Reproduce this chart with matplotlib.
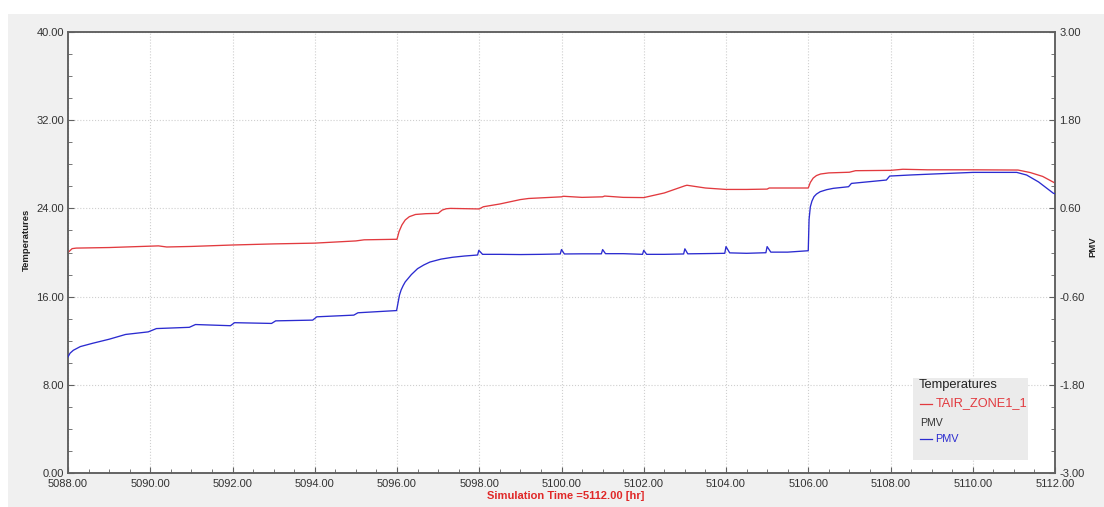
import matplotlib.pyplot as plt
from matplotlib.patches import Rectangle
from matplotlib.ticker import MultipleLocator, FixedLocator, FormatStrFormatter
from matplotlib.lines import Line2D

plt.rcParams['font.family'] = ['Liberation Sans', 'DejaVu Sans']

# TAIR_ZONE1_1 (left axis, temperatures)
tair_time = [5088.0, 5088.1, 5088.2, 5089.0, 5090.2, 5090.4, 5091.0, 5092.0, 5093.0, 5094.0,
             5095.0, 5095.2, 5096.0, 5096.05, 5096.12, 5096.2, 5096.3, 5096.45, 5096.7, 5097.0,
             5097.1, 5097.2, 5097.3, 5098.0, 5098.1, 5098.5, 5099.0, 5099.2, 5100.0, 5100.05,
             5100.5, 5101.0, 5101.05, 5101.5, 5102.0, 5102.5, 5103.0, 5103.05, 5103.5, 5104.0,
             5104.5, 5105.0, 5105.05, 5106.0, 5106.05, 5106.12, 5106.2, 5106.3, 5106.5, 5107.0,
             5107.15, 5108.0, 5108.3, 5108.9, 5110.0, 5111.1, 5111.4, 5111.7, 5112.0]
tair = [20.0, 20.35, 20.4, 20.45, 20.6, 20.5, 20.55, 20.68, 20.78, 20.85,
        21.05, 21.15, 21.2, 21.9, 22.5, 22.95, 23.25, 23.45, 23.52, 23.55,
        23.85, 23.97, 24.0, 23.95, 24.15, 24.4, 24.8, 24.9, 25.05, 25.1,
        25.0, 25.05, 25.12, 25.0, 24.98, 25.4, 26.05, 26.1, 25.85, 25.72,
        25.72, 25.75, 25.85, 25.85, 26.35, 26.75, 26.98, 27.12, 27.22, 27.28,
        27.42, 27.45, 27.55, 27.5, 27.5, 27.48, 27.25, 26.9, 26.3]

# PMV (right axis)
pmv_time = [5088.0, 5088.05, 5088.13, 5088.3, 5088.6, 5089.0, 5089.4, 5089.95, 5090.15, 5090.95,
            5091.1, 5091.95, 5092.05, 5092.95, 5093.05, 5093.95, 5094.05, 5094.95, 5095.05, 5095.99,
            5096.02, 5096.06, 5096.1, 5096.15, 5096.2, 5096.26, 5096.35, 5096.5, 5096.65, 5096.8,
            5097.07, 5097.35, 5097.64, 5097.96, 5097.99, 5098.08, 5098.5, 5099.0, 5099.5, 5099.97,
            5100.0, 5100.07, 5100.5, 5100.97, 5101.0, 5101.07, 5101.5, 5101.97, 5102.0, 5102.07,
            5102.5, 5102.97, 5103.0, 5103.07, 5103.5, 5103.97, 5104.0, 5104.09, 5104.5, 5104.97,
            5105.0, 5105.09, 5105.5, 5106.0, 5106.02, 5106.05, 5106.09, 5106.14, 5106.2, 5106.29,
            5106.45, 5106.61, 5106.98, 5107.05, 5107.9, 5107.98, 5108.5, 5109.04, 5110.01, 5111.07,
            5111.31, 5111.6, 5111.96, 5112.0]
pmv = [-1.42, -1.37, -1.33, -1.28, -1.235, -1.18, -1.115, -1.08, -1.035, -1.018,
       -0.98, -0.996, -0.955, -0.965, -0.93, -0.92, -0.875, -0.852, -0.82, -0.79,
       -0.7, -0.58, -0.51, -0.45, -0.4, -0.36, -0.3, -0.22, -0.17, -0.13,
       -0.09, -0.065, -0.048, -0.034, 0.03, -0.025, -0.025, -0.028, -0.025, -0.02,
       0.04, -0.02, -0.018, -0.018, 0.04, -0.016, -0.016, -0.025, 0.03, -0.025,
       -0.025, -0.02, 0.05, -0.018, -0.015, -0.011, 0.08, -0.005, -0.011, -0.003,
       0.08, 0.005, 0.005, 0.024, 0.45, 0.62, 0.7, 0.76, 0.795, 0.827,
       0.855, 0.873, 0.895, 0.94, 0.986, 1.04, 1.055, 1.068, 1.09, 1.09,
       1.054, 0.96, 0.806, 0.8]

pmv_ticks = [-3.0, -1.8, -0.6, 0.6, 1.8, 3.0]

red = '#e23a3f'
blue = '#2b2bd0'
tick_col = '#333333'
spine_col = '#606060'

fig = plt.figure(figsize=(11.04, 5.07), dpi=100, facecolor='white')
# grey panel behind the chart
fig.patches.append(Rectangle((8 / 1104, 0), 1 - 8 / 1104, 1 - 14 / 507,
                             transform=fig.transFigure, facecolor='#f0f0f0',
                             edgecolor='none', zorder=-10))

ax = fig.add_axes([68 / 1104, 34 / 507, 987 / 1104, 441 / 507])
ax.set_facecolor('white')
ax.plot(tair_time, tair, color=red, lw=0.95, zorder=3)
ax.set_xlim(5088, 5112)
ax.set_ylim(0, 40)
ax.xaxis.set_major_locator(MultipleLocator(2))
ax.xaxis.set_minor_locator(MultipleLocator(0.5))
ax.yaxis.set_major_locator(MultipleLocator(8))
ax.yaxis.set_minor_locator(MultipleLocator(2))
ax.xaxis.set_major_formatter(FormatStrFormatter('%.2f'))
ax.yaxis.set_major_formatter(FormatStrFormatter('%.2f'))
ax.grid(True, which='major', linestyle=':', color='#cfcfcf', lw=0.8)
ax.tick_params(which='both', direction='in', colors=spine_col, labelcolor=tick_col,
               labelsize=8, pad=3)
ax.tick_params(axis='x', pad=4)
ax.tick_params(which='major', length=4)
ax.tick_params(which='minor', length=3)

ax2 = ax.twinx()
ax2.plot(pmv_time, pmv, color=blue, lw=0.95, zorder=3)
ax2.set_ylim(-3, 3)
ax2.yaxis.set_major_locator(FixedLocator(pmv_ticks))
ax2.yaxis.set_minor_locator(MultipleLocator(0.3))
ax2.yaxis.set_major_formatter(FormatStrFormatter('%.2f'))
ax2.tick_params(which='both', direction='in', colors=spine_col, labelcolor=tick_col,
                labelsize=8, pad=3)
ax2.tick_params(which='major', length=4)
ax2.tick_params(which='minor', length=3)

for a in (ax, ax2):
    for s in a.spines.values():
        s.set_color(spine_col)
        s.set_linewidth(1.1)

fig.text(26 / 1104, 1 - 240 / 507, 'Temperatures', rotation=90, fontsize=6.8,
         fontweight='bold', ha='center', va='center', color='#222222')
fig.text(1093 / 1104, 1 - 247 / 507, 'PMV', rotation=90, fontsize=6.8,
         fontweight='bold', ha='center', va='center', color='#222222')
fig.text(566 / 1104, 1 - 496 / 507, 'Simulation Time =5112.00 [hr]', fontsize=8,
         fontweight='bold', ha='center', va='center', color='#e02828')

# legend box
lx0, lx1, ly0, ly1 = 913, 1028, 378, 460
fig.patches.append(Rectangle((lx0 / 1104, 1 - ly1 / 507), (lx1 - lx0) / 1104, (ly1 - ly0) / 507,
                             transform=fig.transFigure, facecolor='#ebebeb',
                             edgecolor='none', zorder=5))
fig.text(919 / 1104, 1 - 385 / 507, 'Temperatures', fontsize=9.3, color='#222222',
         ha='left', va='center', zorder=6)
fig.lines.append(Line2D([920 / 1104, 932 / 1104], [1 - 403.5 / 507] * 2,
                        transform=fig.transFigure, color=red, lw=0.9, zorder=6))
fig.text(936 / 1104, 1 - 403.5 / 507, 'TAIR_ZONE1_1', fontsize=9.2, color=red,
         ha='left', va='center', zorder=6)
fig.text(920 / 1104, 1 - 423 / 507, 'PMV', fontsize=7.6, color='#333333',
         ha='left', va='center', zorder=6)
fig.lines.append(Line2D([920 / 1104, 932 / 1104], [1 - 438.5 / 507] * 2,
                        transform=fig.transFigure, color=blue, lw=0.9, zorder=6))
fig.text(935 / 1104, 1 - 438.5 / 507, 'PMV', fontsize=7.8, color=blue,
         ha='left', va='center', zorder=6)

fig.savefig('out.png', dpi=100, facecolor=fig.get_facecolor())
